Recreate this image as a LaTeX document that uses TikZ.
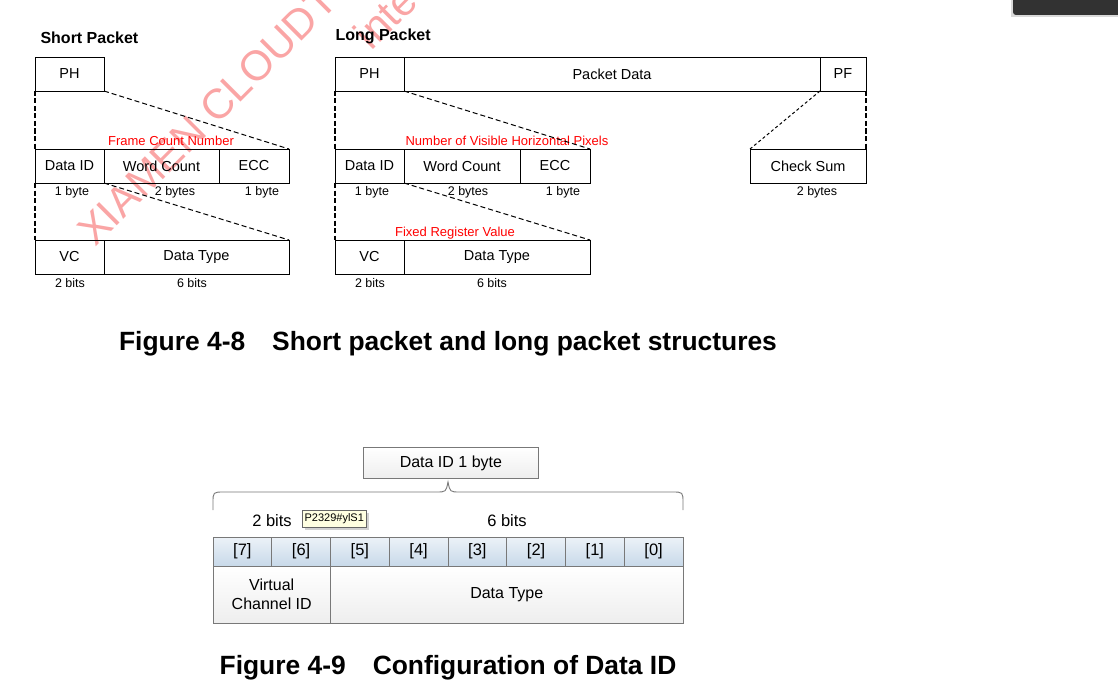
\documentclass[tikz,border=0pt]{standalone}
\usepackage{fontspec}
\setmainfont{Liberation Sans}
\usepackage{tikz}
\usetikzlibrary{positioning, calc}
\definecolor{wmred}{RGB}{250,165,165}
\definecolor{bitblue}{RGB}{200,217,233}
\definecolor{bitlight}{RGB}{236,242,248}
\definecolor{celllight}{RGB}{238,238,238}
\definecolor{tipyellow}{RGB}{255,255,225}
\definecolor{framegray}{RGB}{120,120,120}
\definecolor{barblack}{RGB}{50,50,50}

\tikzset{
  cell/.style={draw, line width=0.8pt, inner sep=0pt, outer sep=0pt, minimum height=34pt, anchor=north west, font=\fontsize{14.5}{16}\selectfont},
  size/.style={font=\fontsize{12.5}{14}\selectfont},
  note/.style={text=red, font=\fontsize{13}{14}\selectfont},
  title/.style={font=\bfseries\fontsize{16}{18}\selectfont, anchor=west},
  vdash/.style={line width=1.4pt, dash pattern=on 5pt off 2.5pt},
  ddash/.style={line width=1pt, dash pattern=on 5pt off 3pt},
  fdash/.style={line width=1pt, dash pattern=on 3pt off 2.5pt},
  bitcell/.style={draw=framegray, line width=0.8pt, inner sep=0pt, outer sep=0pt, minimum width=58.75pt, minimum height=29pt, top color=bitlight, bottom color=bitblue, font=\fontsize{16.5}{18}\selectfont},
  idcell/.style={draw=framegray, line width=0.8pt, inner sep=0pt, outer sep=0pt, minimum height=57pt, top color=white, bottom color=celllight, align=center, font=\fontsize{16}{19}\selectfont},
  caption/.style={font=\bfseries\fontsize{26.4}{29}\selectfont},
  wmtext/.style={text=wmred, font=\fontsize{42}{44}\selectfont, rotate=45, inner sep=0pt},
}

\begin{document}
\begin{tikzpicture}[x=1pt, y=-1pt]
  \useasboundingbox (0,0) rectangle (1118,682);
  \fill[white] (0,0) rectangle (1118,682);

  % watermark
  \begin{scope}
    \clip (0,0) rectangle (1118,682);
    \node[wmtext, anchor=base west] (wm1) at (95,248) {XIAMEN CLOUDT};
    \node[wmtext, anchor=south west] (wm2) at (372,52) {inte};
  \end{scope}

  % Short Packet
  \node[title] (stitle) at (37,38) {Short Packet};
  \node[cell, minimum width=69pt] (sph) at (35,57) {PH};
  \node[cell, minimum width=69pt] (sdid) at (35,149) {Data ID};
  \node[cell, minimum width=115pt, right=0pt of sdid] (swc) {Word Count};
  \node[cell, minimum width=70pt, right=0pt of swc] (secc) {ECC};
  \node[cell, minimum width=69pt] (svc) at (35,240) {VC};
  \node[cell, minimum width=185pt, right=0pt of svc] (sdt) {Data Type};
  \node[note] (sfcn) at (171,141) {Frame Count Number};
  \node[size] at (72,192) {1 byte};
  \node[size] at (175,192) {2 bytes};
  \node[size] at (262,192) {1 byte};
  \node[size] at (70,283) {2 bits};
  \node[size] at (192,283) {6 bits};
  \draw[vdash] (sph.south west) -- (sdid.north west);
  \draw[ddash] (sph.south east) -- (secc.north east);
  \draw[vdash] (sdid.south west) -- (svc.north west);
  \draw[ddash] (sdid.south east) -- (sdt.north east);

  % Long Packet
  \node[title] (ltitle) at (332,36) {Long Packet};
  \node[cell, minimum width=69pt] (lph) at (335,57) {PH};
  \node[cell, minimum width=416pt, right=0pt of lph] (lpd) {Packet Data};
  \node[cell, minimum width=46pt, right=0pt of lpd] (lpf) {PF};
  \node[cell, minimum width=69pt] (ldid) at (335,149) {Data ID};
  \node[cell, minimum width=116pt, right=0pt of ldid] (lwc) {Word Count};
  \node[cell, minimum width=70pt, right=0pt of lwc] (lecc) {ECC};
  \node[cell, minimum width=116pt] (lcs) at (750,149) {Check Sum};
  \node[cell, minimum width=69pt] (lvc) at (335,240) {VC};
  \node[cell, minimum width=186pt, right=0pt of lvc] (ldt) {Data Type};
  \node[note] (lnvp) at (507,141) {Number of Visible Horizontal Pixels};
  \node[note] (lfrv) at (455,233) {Fixed Register Value};
  \node[size] at (372,192) {1 byte};
  \node[size] at (468,192) {2 bytes};
  \node[size] at (563,192) {1 byte};
  \node[size] at (817,192) {2 bytes};
  \node[size] at (370,283) {2 bits};
  \node[size] at (492,283) {6 bits};
  \draw[vdash] (lph.south west) -- (ldid.north west);
  \draw[ddash] (lph.south east) -- (lecc.north east);
  \draw[fdash] (lpf.south west) -- (lcs.north west);
  \draw[vdash] (lpf.south east) -- (lcs.north east);
  \draw[vdash] (ldid.south west) -- (lvc.north west);
  \draw[ddash] (ldid.south east) -- (ldt.north east);

  \node[caption] (cap8) at (448,344) {Figure 4-8\hspace{27pt}Short packet and long packet structures};

  % Data ID bits
  \node[draw=framegray, line width=0.8pt, top color=white, bottom color=celllight, minimum width=175pt, minimum height=31pt, anchor=north west, font=\fontsize{16}{18}\selectfont] (did) at (363,447) {Data ID 1 byte};
  \draw[framegray, line width=0.9pt] (213,510) -- (213,503) .. controls (213,492) .. (224,492) -- (436,492) .. controls (446,492) .. (448,482) .. controls (450,492) .. (460,492) -- (672,492) .. controls (683,492) .. (683,503) -- (683,510);
  \node[font=\fontsize{16.5}{18}\selectfont] (two) at (272,521) {2 bits};
  \node[font=\fontsize{16.5}{18}\selectfont] (six) at (507,521) {6 bits};

  \node[bitcell, anchor=north west] (bit7) at (213,537) {[7]};
  \foreach \b [remember=\b as \prev (initially 7)] in {6,...,0}
    \node[bitcell, right=0pt of bit\prev] (bit\b) {[\b]};
  \node[idcell, minimum width=117.5pt, anchor=north west] (vcid) at (213,566) {Virtual\\Channel ID};
  \node[idcell, minimum width=352.5pt, right=0pt of vcid] (dtype) {Data Type};

  % tooltip
  \fill[black!18] (305,513) rectangle (369,530);
  \node[draw=black!60, fill=tipyellow, line width=0.5pt, inner sep=0pt, minimum width=64pt, minimum height=17pt, anchor=north west, font=\fontsize{11}{12}\selectfont] (tip) at (302,510) {P2329\#ylS1};

  \node[caption] (cap9) at (448,668) {Figure 4-9\hspace{27pt}Configuration of Data ID};

  % window bar
  \fill[black!15] (1011,-5) rectangle (1120,17);
  \fill[barblack, rounded corners=3pt] (1013,-5) rectangle (1125,15);
\end{tikzpicture}
\end{document}
